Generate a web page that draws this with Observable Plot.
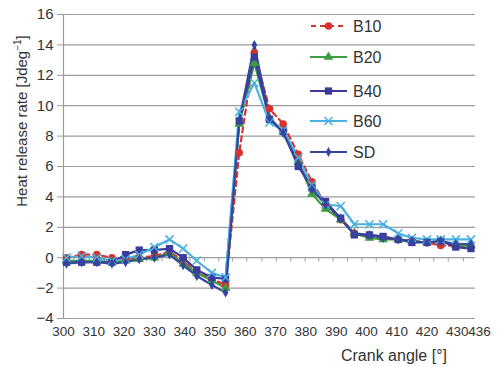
<!DOCTYPE html>
<html><head><meta charset="utf-8">
<script src="https://cdn.jsdelivr.net/npm/d3@7"></script>
<script src="https://cdn.jsdelivr.net/npm/@observablehq/plot@0.6"></script>
<style>
body{margin:0;background:#fff;}
#wrap{position:relative;width:498px;height:367px;font-family:"Liberation Sans",Arial,sans-serif;}
#wrap svg{display:block}
#overlay{position:absolute;left:0;top:0;pointer-events:none;}
</style></head><body><div id="wrap"></div>
<script>
const angle = [301,306,311,316,320.5,325,330,335,339.5,344,349,353.5,358,363,368,372.5,377.5,382,386.5,391.5,396,401,405.5,410.5,415,420,424.5,429.5,434.5];
const B10 = [0.0,0.2,0.2,0.0,-0.1,0.0,0.1,0.4,-0.2,-1.0,-1.4,-1.8,6.9,13.5,9.8,8.8,6.8,5.0,3.5,2.5,1.6,1.4,1.3,1.2,1.1,1.0,0.8,0.8,0.7];
const B20 = [-0.2,-0.2,-0.2,-0.3,-0.2,-0.1,0.0,0.3,-0.4,-1.0,-1.5,-2.0,8.8,12.8,9.2,8.3,6.3,4.2,3.2,2.5,1.6,1.3,1.2,1.2,1.1,1.0,1.1,0.8,0.8];
const B40 = [-0.3,-0.3,-0.3,-0.3,0.2,0.5,0.5,0.6,0.0,-0.8,-1.3,-1.4,9.0,13.2,9.1,8.3,6.0,4.6,3.7,2.6,1.5,1.5,1.4,1.2,1.0,1.0,1.1,0.7,0.6];
const B60 = [0.0,0.1,0.0,-0.2,-0.1,0.2,0.7,1.2,0.6,-0.2,-1.0,-1.3,9.6,11.5,8.9,8.4,6.6,4.8,3.5,3.4,2.2,2.2,2.2,1.6,1.3,1.2,1.2,1.2,1.2];
const SD  = [-0.4,-0.3,-0.3,-0.4,-0.3,-0.1,0.0,0.2,-0.5,-1.2,-1.8,-2.3,9.0,14.0,9.2,8.2,6.2,4.5,3.5,2.6,1.6,1.5,1.3,1.2,1.1,1.0,1.1,0.9,0.9];
const seriesNames = ["B10","B20","B40","B60","SD"];
const seriesValues = [B10,B20,B40,B60,SD];
const xTicks = [300,310,320,330,340,350,360,370,380,390,400,410,420,430];
const xTickLast = [436];
const yTicks = [-4,-2,0,2,4,6,8,10,12,14,16];

const styles = {
  B10:{color:"#d8322c", dash:"5,4", symbol:"circle", r:3.8, filled:true},
  B20:{color:"#3d9b40", dash:null, symbol:"triangle", r:3.6, filled:true},
  B40:{color:"#3a3a9c", dash:null, symbol:"square", r:4.1, filled:true},
  B60:{color:"#4ab0e2", dash:null, symbol:"times", r:3.8, filled:false},
  SD:{color:"#34469e", dash:null, symbol:"diamond", r:3.0, filled:true}
};

const rows = [];
seriesNames.forEach((s,i)=>angle.forEach((a,j)=>rows.push({series:s, angle:a, value:seriesValues[i][j]})));
const bounds = angle.slice(1).map((a,i)=>(a+angle[i])/2);
const grid = "#9c9c9c";
const fmt = d => d < 0 ? "\u2212" + Math.abs(d) : String(d);

const marks = [
  Plot.ruleY(yTicks, {stroke:grid, strokeWidth:1.2}),
  Plot.ruleX([300], {stroke:grid, strokeWidth:1.2}),
  Plot.axisY(yTicks, {tickSize:6, tickPadding:4, tickFormat:fmt, stroke:grid, fill:"#333", label:null, fontSize:15}),
  Plot.axisX(xTicks, {tickSize:0, tickPadding:8, label:null, fill:"#333", fontSize:13.5, letterSpacing:-0.6}),
  Plot.axisX(xTickLast, {tickSize:0, tickPadding:8, label:null, fill:"#333", fontSize:13.5, letterSpacing:-0.6, dx:4}),
  Plot.ruleX(bounds, {y1:0, y2:-0.28, stroke:grid})
];
for (const s of seriesNames) {
  const st = styles[s];
  const d = rows.filter(r=>r.series===s);
  marks.push(Plot.line(d, {x:"angle", y:"value", stroke:st.color, strokeWidth:2.2, strokeDasharray:st.dash}));
}
for (const s of seriesNames) {
  const st = styles[s];
  const d = rows.filter(r=>r.series===s);
  marks.push(Plot.dot(d, st.filled
    ? {x:"angle", y:"value", symbol:()=>st.symbol, r:st.r, fill:st.color, stroke:"none"}
    : {x:"angle", y:"value", symbol:()=>st.symbol, r:st.r, stroke:st.color, strokeWidth:1.5, fill:"none"}));
}

const chart = Plot.plot({
  width:498, height:367,
  marginLeft:63, marginRight:23, marginTop:14, marginBottom:49,
  style:{fontFamily:'"Liberation Sans", Arial, sans-serif', fontSize:"14px", color:"#333", background:"#fff"},
  x:{domain:[300,436]},
  y:{domain:[-4,16]},
  marks
});
const wrap = document.getElementById("wrap");
wrap.appendChild(chart);

// overlay: titles and legend
const ns = "http://www.w3.org/2000/svg";
const ov = d3.select(wrap).append("svg").attr("id","overlay").attr("width",498).attr("height",367)
  .attr("xmlns",ns).style("font-family",'"Liberation Sans", Arial, sans-serif');

const yt = ov.append("text").attr("transform","translate(27,121) rotate(-90)")
  .attr("text-anchor","middle").attr("font-size",15).attr("fill","#333");
yt.append("tspan").text("Heat release rate [Jdeg");
yt.append("tspan").attr("font-size",10).attr("dy",-6).text("\u22121");
yt.append("tspan").attr("dy",6).text("]");

ov.append("text").attr("x",447).attr("y",361).attr("text-anchor","end")
  .attr("font-size",16).attr("fill","#333").text("Crank angle [\u00b0]");

const legY = [26,57,91,121,152];
seriesNames.forEach((s,i)=>{
  const st = styles[s];
  const g = ov.append("g").attr("transform",`translate(0,${legY[i]})`);
  g.append("line").attr("x1",s==="B10"?311:310).attr("x2",s==="B10"?346:347).attr("y1",0).attr("y2",0)
    .attr("stroke",st.color).attr("stroke-width",2.2).attr("stroke-dasharray",st.dash);
  const sym = d3.symbol().type({circle:d3.symbolCircle,triangle:d3.symbolTriangle,square:d3.symbolSquare,times:d3.symbolTimes,diamond:d3.symbolDiamond}[st.symbol]).size(Math.PI*st.r*st.r)();
  const p = g.append("path").attr("d",sym).attr("transform","translate(328.5,0)");
  if (st.filled) p.attr("fill",st.color); else p.attr("fill","none").attr("stroke",st.color).attr("stroke-width",1.5);
  g.append("text").attr("x",353).attr("y",0).attr("dy","0.36em").attr("font-size",16).attr("fill","#333").text(s);
});
</script></body></html>
